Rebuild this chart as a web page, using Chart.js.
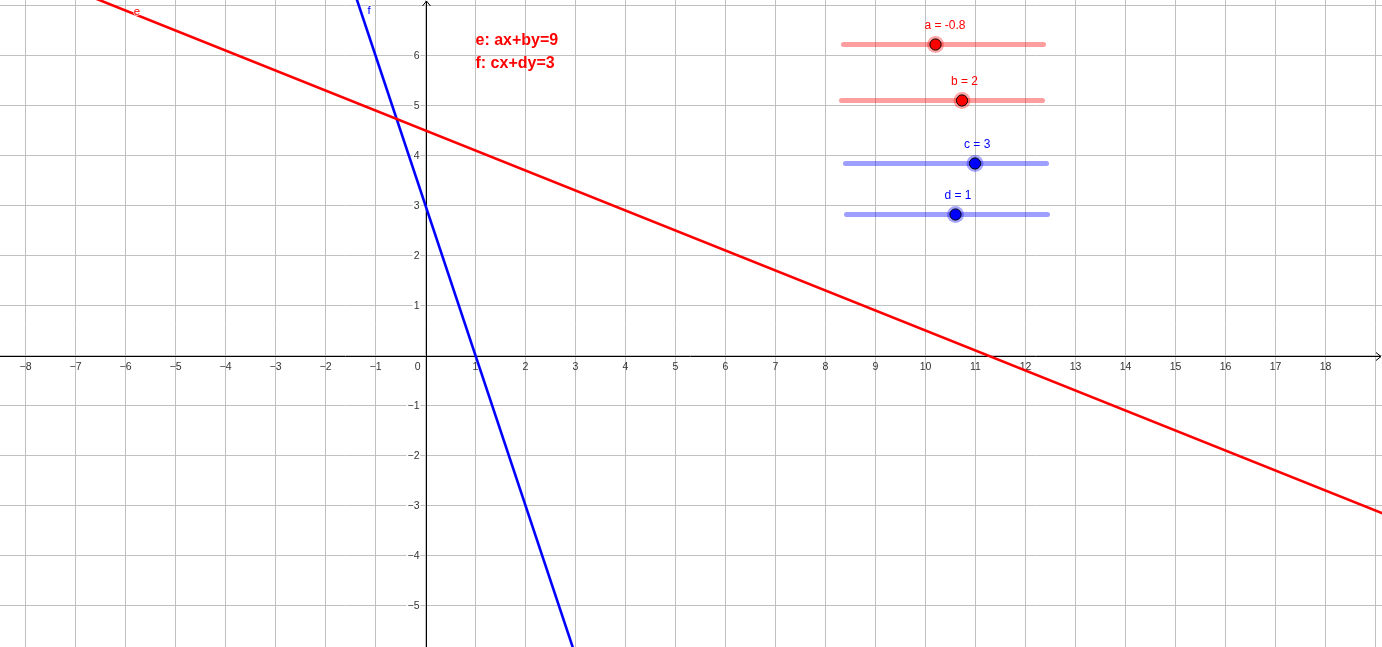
<!DOCTYPE html>
<html>
<head>
<meta charset="utf-8">
<script src="https://cdn.jsdelivr.net/npm/chart.js@4/dist/chart.umd.min.js"></script>
<style>
  html, body { margin: 0; padding: 0; background: #fff; }
  #wrap { width: 1382px; height: 647px; position: relative; }
</style>
</head>
<body>
<div id="wrap"><canvas id="c"></canvas></div>
<script>
// view window (graph units)
const xRange = [-8.51, 19.13];
const yRange = [-5.83, 7.11];

// grid + tick labels
const xGrid = [-8,-7,-6,-5,-4,-3,-2,-1,0,1,2,3,4,5,6,7,8,9,10,11,12,13,14,15,16,17,18,19];
const yGrid = [-5,-4,-3,-2,-1,0,1,2,3,4,5,6,7];
const xLabels = [-8,-7,-6,-5,-4,-3,-2,-1,1,2,3,4,5,6,7,8,9,10,11,12,13,14,15,16,17,18];
const yLabels = [-5,-4,-3,-2,-1,1,2,3,4,5,6];

// line e (red) and f (blue), read at the picture edges
const eLineX = [-8.6, 19.2];
const eLineY = [7.94, -3.18];
const fLineX = [-1.5, 3.0];
const fLineY = [7.5, -6.0];

// sliders: name, value text, track start/end x, track y, handle x
const sliderNames = ['a', 'b', 'c', 'd'];
const sliderValues = ['-0.8', '2', '3', '1'];
const sliderStart = [8.36, 8.32, 8.4, 8.42];
const sliderEnd = [12.36, 12.34, 12.42, 12.44];
const sliderY = [6.22, 5.1, 3.84, 2.82];
const sliderKnob = [10.2, 10.73, 10.99, 10.6];

// equation text + line name labels
const eqText = ['e: ax+by=9', 'f: cx+dy=3'];
const eqPos = [[1.0, 6.3], [1.0, 5.84]];
const lineNames = ['e', 'f'];
const lineNamePos = [[-5.77, 6.87], [-1.13, 6.89]];

const RED = '#ff0000';
const BLUE = '#0000ff';
const sliderColor = i => i < 2 ? RED : BLUE;
const trackColor = i => i < 2 ? 'rgba(255,0,0,0.38)' : 'rgba(0,0,255,0.38)';
const haloColor = i => i < 2 ? 'rgba(255,0,0,0.35)' : 'rgba(0,0,255,0.35)';

const datasets = [];
datasets.push({
  label: 'e', data: eLineX.map((x, i) => ({ x, y: eLineY[i] })),
  showLine: true, borderColor: RED, borderWidth: 2.6, pointRadius: 0, order: 5
});
datasets.push({
  label: 'f', data: fLineX.map((x, i) => ({ x, y: fLineY[i] })),
  showLine: true, borderColor: BLUE, borderWidth: 2.6, pointRadius: 0, order: 5
});
sliderNames.forEach((n, i) => {
  datasets.push({
    label: n + ' track',
    data: [{ x: sliderStart[i], y: sliderY[i] }, { x: sliderEnd[i], y: sliderY[i] }],
    showLine: true, borderColor: trackColor(i), borderWidth: 5, borderCapStyle: 'round',
    pointRadius: 0, order: 3
  });
  datasets.push({
    label: n + ' halo', data: [{ x: sliderKnob[i], y: sliderY[i] }],
    pointRadius: 8.5, backgroundColor: haloColor(i), borderWidth: 0, order: 2
  });
  datasets.push({
    label: n, data: [{ x: sliderKnob[i], y: sliderY[i] }],
    pointRadius: 5.6, backgroundColor: sliderColor(i), borderColor: '#000', borderWidth: 1, order: 1
  });
});

const fmt = v => v < 0 ? '\u2212' + Math.abs(v) : String(v);

const axesPlugin = {
  id: 'axes',
  beforeDatasetsDraw(chart) {
    const { ctx, scales: { x, y }, chartArea: ca } = chart;
    const ox = Math.round(x.getPixelForValue(0)) + 0.5;
    const oy = Math.round(y.getPixelForValue(0)) + 0.5;
    ctx.save();
    ctx.strokeStyle = '#000';
    ctx.lineWidth = 1;
    ctx.beginPath();
    ctx.moveTo(ca.left, oy); ctx.lineTo(ca.right - 1, oy);
    ctx.moveTo(ox, ca.bottom); ctx.lineTo(ox, ca.top + 1);
    // arrow heads
    ctx.moveTo(ca.right - 6, oy - 4); ctx.lineTo(ca.right - 1, oy); ctx.lineTo(ca.right - 6, oy + 4);
    ctx.moveTo(ox - 4, ca.top + 6); ctx.lineTo(ox, ca.top + 1); ctx.lineTo(ox + 4, ca.top + 6);
    ctx.stroke();

    ctx.font = '10.5px "Liberation Sans", Arial, sans-serif';
    ctx.fillStyle = '#333';
    ctx.textBaseline = 'middle';
    ctx.textAlign = 'center';
    xLabels.forEach(v => {
      ctx.fillText(fmt(v), x.getPixelForValue(v), oy + 11);
    });
    ctx.textAlign = 'right';
    yLabels.forEach(v => {
      const py = y.getPixelForValue(v);
      const t = fmt(v);
      const w = ctx.measureText(t).width;
      ctx.fillStyle = '#fff';
      ctx.fillRect(ox - 7 - w - 1, py - 5, w + 2, 10);
      ctx.fillStyle = '#333';
      ctx.fillText(t, ox - 7, py + 0.5);
    });
    ctx.fillText('0', ox - 6, oy + 11);
    ctx.restore();
  },
  afterDatasetsDraw(chart) {
    const { ctx, scales: { x, y } } = chart;
    ctx.save();
    ctx.textBaseline = 'middle';
    // slider captions (left edge sits a little left of the knob)
    ctx.font = '12px "Liberation Sans", Arial, sans-serif';
    ctx.textAlign = 'left';
    sliderNames.forEach((n, i) => {
      ctx.fillStyle = sliderColor(i);
      ctx.fillText(n + ' = ' + sliderValues[i], x.getPixelForValue(sliderKnob[i]) - 11, y.getPixelForValue(sliderY[i]) - 18.5);
    });
    // equations
    ctx.font = 'bold 16px "Liberation Sans", Arial, sans-serif';
    ctx.fillStyle = RED;
    eqText.forEach((t, i) => {
      ctx.fillText(t, x.getPixelForValue(eqPos[i][0]), y.getPixelForValue(eqPos[i][1]));
    });
    // line names
    ctx.font = '11.5px "Liberation Sans", Arial, sans-serif';
    ctx.textAlign = 'center';
    lineNames.forEach((n, i) => {
      const px = x.getPixelForValue(lineNamePos[i][0]);
      const py = y.getPixelForValue(lineNamePos[i][1]);
      ctx.lineWidth = 2;
      ctx.strokeStyle = 'rgba(255,255,255,0.7)';
      ctx.strokeText(n, px, py);
      ctx.fillStyle = i === 0 ? RED : BLUE;
      ctx.fillText(n, px, py);
    });
    ctx.restore();
  }
};

const gridScale = (range, ticks) => ({
  type: 'linear',
  min: range[0], max: range[1],
  afterBuildTicks: s => { s.ticks = ticks.map(v => ({ value: v })); },
  ticks: { display: false },
  border: { display: false },
  grid: { color: '#c0c0c0', lineWidth: 1, drawTicks: false }
});

new Chart(document.getElementById('c'), {
  type: 'scatter',
  data: { datasets },
  options: {
    responsive: true,
    maintainAspectRatio: false,
    animation: false,
    layout: { padding: 0, autoPadding: false },
    plugins: { legend: { display: false }, tooltip: { enabled: false } },
    scales: {
      x: gridScale(xRange, xGrid),
      y: gridScale(yRange, yGrid)
    }
  },
  plugins: [axesPlugin]
});
</script>
</body>
</html>
